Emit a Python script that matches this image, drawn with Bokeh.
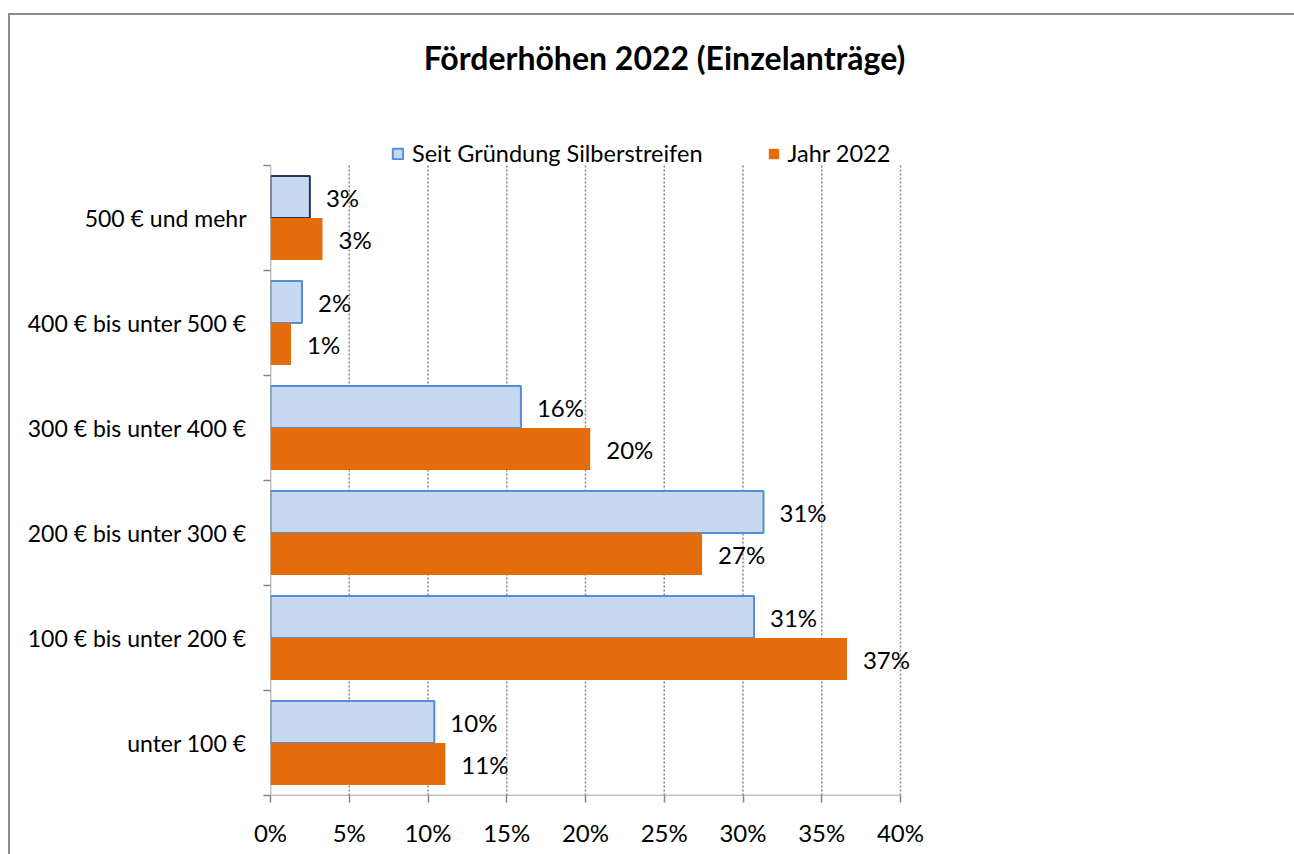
from bokeh.plotting import figure
from bokeh.models import (Range1d, FixedTicker, Legend, LegendItem, Label,
                          ColumnDataSource, InlineStyleSheet)
from bokeh.core.properties import value
from bokeh.embed import file_html
from bokeh.resources import INLINE

# ---- data ----
categories = ["unter 100 €", "100 € bis unter 200 €", "200 € bis unter 300 €",
              "300 € bis unter 400 €", "400 € bis unter 500 €", "500 € und mehr"]
seit = [10.4, 30.7, 31.3, 15.9, 2.0, 2.5]
jahr = [11.1, 36.6, 27.4, 20.3, 1.3, 3.3]
seit_labels = ["10%", "31%", "31%", "16%", "2%", "3%"]
jahr_labels = ["11%", "37%", "27%", "20%", "1%", "3%"]
x_ticks = [0, 5, 10, 15, 20, 25, 30, 35, 40]
x_tick_labels = ["0%", "5%", "10%", "15%", "20%", "25%", "30%", "35%", "40%"]
series_names = ["Seit Gründung Silberstreifen", "Jahr 2022"]
title_text = "Förderhöhen 2022 (Einzelanträge)"

# ---- style / layout ----
FONT = "Lato"
W, H = 1294, 854
# plot area in page pixels: x 270..900 (0..40 %), y 165..795 (6 categories);
# the frame is extended up to y=20 and right to x=1280 so that title,
# legend and data labels are never clipped.
PX_PER_CAT = 105.0
PX_PER_PCT = 15.75
EXTRA_TOP = 145.0
EXTRA_RIGHT = 380.0
LEFT, RIGHT, TOP, BOTTOM = 270, 14, 20, 59
BLUE_FILL = "#C6D9F1"
BLUE_LINE = "#558ED5"
DARK_LINE = "#1F3864"
ORANGE = "#E46C0A"
GRAY = "#868686"

n = len(categories)
x_max = x_ticks[-1]
centers = [i + 0.5 for i in range(n)]
seit_line = [BLUE_LINE] * (n - 1) + [DARK_LINE]
y_top = n + EXTRA_TOP / PX_PER_CAT
x_end = x_max + EXTRA_RIGHT / PX_PER_PCT

p = figure(width=W, height=H, x_range=Range1d(0, x_end), y_range=Range1d(0, y_top),
           output_backend="svg", toolbar_location=None, title=None,
           min_border_left=LEFT, min_border_right=RIGHT,
           min_border_top=TOP, min_border_bottom=BOTTOM)
p.outline_line_color = None
p.background_fill_color = "white"
p.border_fill_color = "white"
p.xgrid.grid_line_color = None
p.ygrid.grid_line_color = None

# vertical dotted grid lines (only over the category area)
grid_x = x_ticks[1:]
p.segment(x0=grid_x, y0=[0] * len(grid_x), x1=grid_x, y1=[n] * len(grid_x),
          line_color=GRAY, line_width=1.5, line_dash="2 2")

src_s = ColumnDataSource(dict(y=[c + 0.2 for c in centers], x=seit,
                              lab=seit_labels, lc=seit_line))
src_j = ColumnDataSource(dict(y=[c - 0.2 for c in centers], x=jahr,
                              lab=jahr_labels))

r_s = p.hbar(y="y", right="x", left=0, height=0.4, source=src_s,
             fill_color=BLUE_FILL, line_color="lc", line_width=2)
r_j = p.hbar(y="y", right="x", left=0, height=0.4, source=src_j,
             fill_color=ORANGE, line_color=None)

# axis lines (only over the plot area)
p.segment(x0=[0, 0], y0=[0, 0], x1=[0, x_max], y1=[n, 0],
          line_color=GRAY, line_width=1.5)

for src in (src_s, src_j):
    p.text(x="x", y="y", text="lab", source=src, x_offset=16,
           text_baseline="middle", text_align="left",
           text_font=value(FONT), text_font_size="24px", text_color="black")

# x axis
xa = p.xaxis[0]
xa.ticker = FixedTicker(ticks=x_ticks)
xa.major_label_overrides = {t: l for t, l in zip(x_ticks, x_tick_labels)}
xa.axis_line_color = None
xa.major_tick_line_color = GRAY
xa.major_tick_line_width = 1.5
xa.major_tick_in = 0
xa.major_tick_out = 7
xa.minor_tick_line_color = None
xa.major_label_standoff = 15
xa.major_label_text_font = FONT
xa.major_label_text_font_size = "24px"
xa.major_label_text_color = "black"

# y axis: labels at centers, ticks at boundaries (minor)
ya = p.yaxis[0]
ya.ticker = FixedTicker(ticks=centers, minor_ticks=list(range(n + 1)))
ya.major_label_overrides = {c: cat for c, cat in zip(centers, categories)}
ya.axis_line_color = None
ya.major_tick_line_color = None
ya.major_tick_in = 0
ya.major_tick_out = 0
ya.minor_tick_line_color = GRAY
ya.minor_tick_line_width = 1.5
ya.minor_tick_in = 0
ya.minor_tick_out = 7
ya.major_label_standoff = 17
ya.major_label_text_font = FONT
ya.major_label_text_font_size = "23px"
ya.major_label_text_color = "black"

# legend (inside the extended frame, above the bars)
legend = Legend(items=[LegendItem(label=series_names[0], renderers=[r_s]),
                       LegendItem(label=series_names[1], renderers=[r_j])],
                orientation="horizontal", location=(121, 628),
                padding=0, margin=0, spacing=64,
                glyph_width=13, glyph_height=13, label_standoff=8,
                label_text_font=FONT, label_text_font_size="23.5px",
                label_text_color="black",
                border_line_color=None, background_fill_alpha=0)
p.add_layout(legend, "center")

# title
p.add_layout(Label(x=(664 - 270) / PX_PER_PCT, y=n + (165 - 57) / PX_PER_CAT,
                   text=title_text, text_align="center", text_baseline="middle",
                   text_font=FONT, text_font_size="32px",
                   text_font_style="bold", text_color="black"))

# outer border of the chart area (top and left edges visible)
p.stylesheets = [InlineStyleSheet(css="""
:host::after {
  content: "";
  position: absolute;
  left: 8px; top: 13px; right: 0px; bottom: 0px;
  border-left: 2px solid #8a8a8a;
  border-top: 2px solid #8a8a8a;
  pointer-events: none;
}
""")]

open("out.html", "w").write(file_html(p, INLINE))
